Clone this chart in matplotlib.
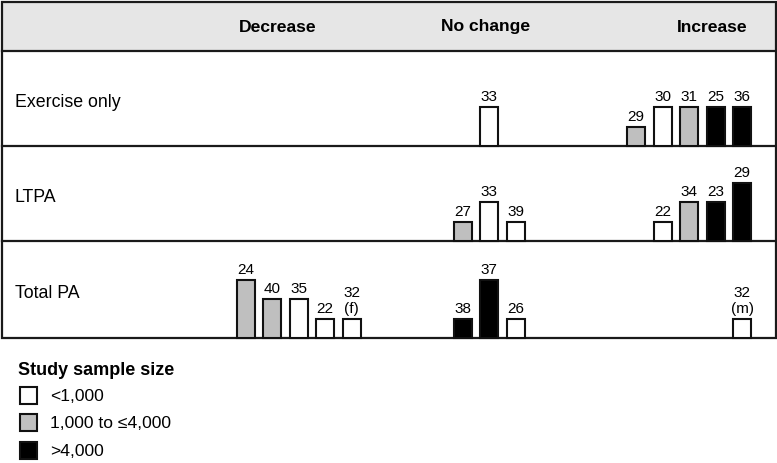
import matplotlib
matplotlib.use("Agg")
import matplotlib.pyplot as plt
from matplotlib.patches import Rectangle

plt.rcParams['font.family'] = ['Liberation Sans', 'DejaVu Sans']

# --- Data ---
row_names = ["Exercise only", "LTPA", "Total PA"]
columns = ["Decrease", "No change", "Increase"]
size_labels = ["<1,000", "1,000 to \u22644,000", ">4,000"]
size_colors = ["#ffffff", "#bfbfbf", "#000000"]

# per row: column index, slot in column, bar height (score), sample size class, reference
exercise_col = [1, 2, 2, 2, 2, 2]
exercise_slot = [1, 0, 1, 2, 3, 4]
exercise_score = [2, 1, 2, 2, 2, 2]
exercise_size = [0, 1, 0, 1, 2, 2]
exercise_ref = ["33", "29", "30", "31", "25", "36"]

ltpa_col = [1, 1, 1, 2, 2, 2, 2]
ltpa_slot = [0, 1, 2, 1, 2, 3, 4]
ltpa_score = [1, 2, 1, 1, 2, 2, 3]
ltpa_size = [1, 0, 0, 0, 1, 2, 2]
ltpa_ref = ["27", "33", "39", "22", "34", "23", "29"]

total_col = [0, 0, 0, 0, 0, 1, 1, 1, 2]
total_slot = [0, 1, 2, 3, 4, 0, 1, 2, 4]
total_score = [3, 2, 2, 1, 1, 1, 3, 1, 1]
total_size = [1, 1, 0, 0, 0, 2, 2, 0, 0]
total_ref = ["24", "40", "35", "22", "32\n(f)", "38", "37", "26", "32\n(m)"]

rows = [
    (exercise_col, exercise_slot, exercise_score, exercise_size, exercise_ref),
    (ltpa_col, ltpa_slot, ltpa_score, ltpa_size, ltpa_ref),
    (total_col, total_slot, total_score, total_size, total_ref),
]

# --- Layout (pixel units) ---
W, H = 777, 463
def Y(py):
    return H - py

col_x0 = [245.5, 462.5, 636.0]    # centre of first slot in each column
col_head_x = [278, 486, 712]
slot_step = 26.5
bar_w = 18
unit = 19.3
row_bottom = [146, 241, 338]
line_c = "#1a1a1a"

fig = plt.figure(figsize=(7.77, 4.63), dpi=100)
ax = fig.add_axes([0, 0, 1, 1])
ax.set_xlim(0, W)
ax.set_ylim(0, H)
ax.axis('off')

# table frame and header
ax.add_patch(Rectangle((1.5, Y(51)), 774, 49, facecolor="#e6e6e6", edgecolor="none"))
ax.add_patch(Rectangle((1.5, Y(338)), 774, 336, fill=False, edgecolor=line_c, lw=1.6, zorder=3))
for py in [51, 146, 241]:
    ax.plot([1.5, 775.5], [Y(py), Y(py)], color=line_c, lw=1.6, zorder=3)

for name, hx in zip(columns, col_head_x):
    ax.text(hx, Y(27), name, ha='center', va='center', fontsize=12.6, fontweight='bold')

for i, (name, (cols, slots, scores, sizes, refs)) in enumerate(zip(row_names, rows)):
    base = Y(row_bottom[i])
    ax.text(15, Y(107 + 95.5 * i), name, ha='left', va='baseline', fontsize=12.8)
    xs = [col_x0[c] + s * slot_step for c, s in zip(cols, slots)]
    hs = [sc * unit for sc in scores]
    ax.bar(xs, hs, width=bar_w, bottom=base, color=[size_colors[k] for k in sizes],
           edgecolor="#111111", linewidth=1.5, zorder=4)
    for x, h, ref in zip(xs, hs, refs):
        ax.text(x, base + h + 3, ref, ha='center', va='bottom', fontsize=11,
                linespacing=1.15, zorder=5)

# legend
ax.text(18, Y(375), "Study sample size", ha='left', va='baseline', fontsize=13, fontweight='bold')
for k, (lab, colr) in enumerate(zip(size_labels, size_colors)):
    cy = 395 + 27.5 * k
    ax.add_patch(Rectangle((19.5, Y(cy + 8.5)), 17, 17, facecolor=colr,
                           edgecolor="#111111", lw=1.5))
    ax.text(50, Y(cy + 6), lab, ha='left', va='baseline', fontsize=12.6)

fig.savefig("out.png", dpi=100)
